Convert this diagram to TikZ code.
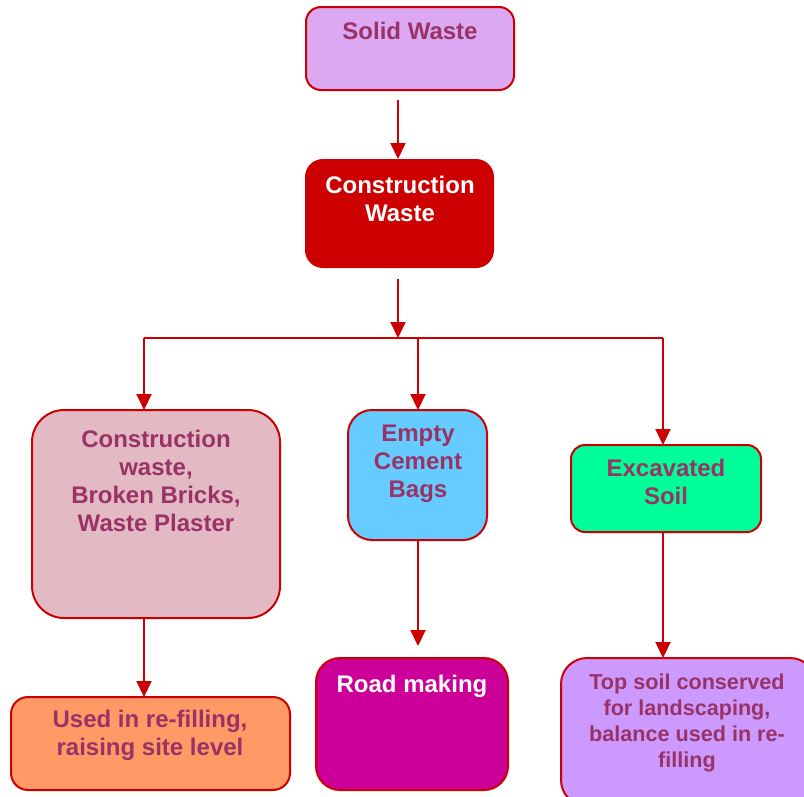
\documentclass[tikz,border=0pt]{standalone}
\usepackage{fontspec}
\setmainfont{Liberation Sans}
\usetikzlibrary{arrows.meta}
\definecolor{edge}{HTML}{CC0000}
\definecolor{txt}{HTML}{993366}
\definecolor{fSolid}{HTML}{DDA8F2}
\definecolor{fCons}{HTML}{CC0000}
\definecolor{fBrick}{HTML}{E3BAC4}
\definecolor{fBags}{HTML}{66CCFF}
\definecolor{fSoil}{HTML}{00FF99}
\definecolor{fFill}{HTML}{FF9966}
\definecolor{fRoad}{HTML}{CC0099}
\definecolor{fTop}{HTML}{CC99FF}
\tikzset{
  box/.style={draw=edge, line width=2pt, rounded corners=15pt},
  lbl/.style={align=center, font=\bfseries\fontsize{24}{28}\selectfont, text=txt, inner sep=0pt},
  wlbl/.style={lbl, text=white},
  conn/.style={draw=edge, line width=2pt, -{Triangle[length=16pt,width=15pt]}},
  seg/.style={draw=edge, line width=2pt}
}
\begin{document}
\begin{tikzpicture}[x=1pt,y=-1pt]
\clip (0,0) rectangle (804,796);
\fill[white] (0,0) rectangle (804,796);
% boxes
\draw[box, fill=fSolid] (306,7) rectangle (514,90);
\coordinate (solidB) at (398,100);
\draw[box, fill=fCons, rounded corners=17pt] (306,160) rectangle (493,267);
\coordinate (consT) at (398,159);
\coordinate (consB) at (398,279);
\draw[box, fill=fBrick, rounded corners=32pt] (32,410) rectangle (280,618);
\draw[box, fill=fBags, rounded corners=24pt] (348,410) rectangle (487,540);
\draw[box, fill=fSoil, rounded corners=14pt] (571,445) rectangle (761,532);
\draw[box, fill=fFill, rounded corners=17pt] (11,697) rectangle (290,790);
\draw[box, fill=fRoad, rounded corners=24pt] (316,658) rectangle (508,790);
\draw[box, fill=fTop, rounded corners=26pt] (561,658) rectangle (816,806);
% coordinates of box edges
\coordinate (jn) at (398,338);
\coordinate (jl) at (144,338);
\coordinate (jm) at (418,338);
\coordinate (jr) at (663,338);
\coordinate (brickT) at (144,410);
\coordinate (bagsT) at (418,410);
\coordinate (soilT) at (663,445);
\coordinate (brickB) at (144,618);
\coordinate (bagsB) at (418,540);
\coordinate (soilB) at (663,532);
\coordinate (fillT) at (144,697);
\coordinate (roadT) at (418,646);
\coordinate (topT) at (663,658);
% labels
\node[lbl] (solid) at (410,31) {Solid Waste};
\node[wlbl] (cons) at (400,199) {Construction\\Waste};
\node[lbl] (brick) at (156,481) {Construction\\waste,\\Broken Bricks,\\Waste Plaster};
\node[lbl] (bags) at (418,464) {Empty\\Cement\\Bags};
\node[lbl] (soil) at (666,482) {Excavated\\Soil};
\node[lbl] (fill) at (150,735) {Used in re-filling,\\raising site level};
\node[wlbl] (road) at (412,686) {Road making};
\node[lbl, font=\bfseries\fontsize{21.6}{26}\selectfont] (top) at (687,723) {Top soil conserved\\for landscaping,\\balance used in re-\\filling};
% connectors
\draw[conn] (solidB) -- (consT);
\draw[conn] (consB) -- (jn);
\draw[seg] (jl) -- (jr);
\draw[conn] (jl) -- (brickT);
\draw[conn] (jm) -- (bagsT);
\draw[conn] (jr) -- (soilT);
\draw[conn] (brickB) -- (fillT);
\draw[conn] (bagsB) -- (roadT);
\draw[conn] (soilB) -- (topT);
\end{tikzpicture}
\end{document}
